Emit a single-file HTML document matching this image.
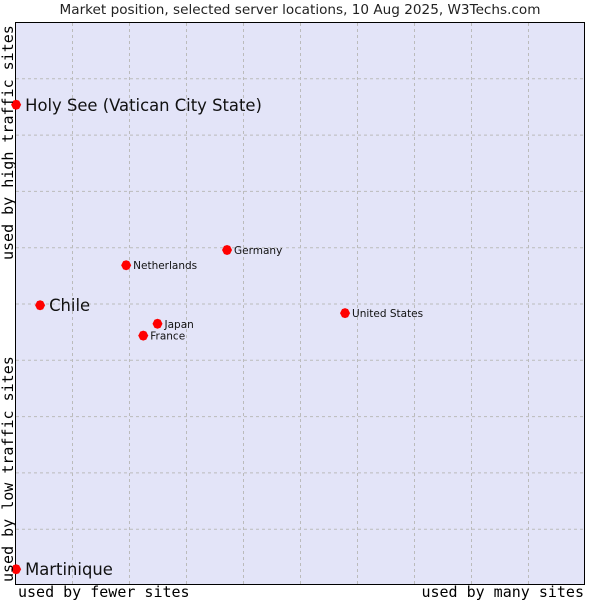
<!DOCTYPE html>
<html><head><meta charset="utf-8"><style>
html,body{margin:0;padding:0;background:#fff;width:600px;height:600px;overflow:hidden}
svg{display:block}
</style></head><body>
<svg id="chart" width="600" height="600" xmlns="http://www.w3.org/2000/svg">
<text x="300" y="14" text-anchor="middle" font-family="DejaVu Sans, sans-serif" font-size="13.6" fill="#222">Market position, selected server locations, 10 Aug 2025, W3Techs.com</text>
<rect x="15.5" y="22.5" width="569" height="562" fill="#e3e4f8" stroke="#000" stroke-width="1"/>
<g id="grid"></g>
<g id="marks"></g>
<text x="18" y="597" font-family="DejaVu Sans Mono, Liberation Mono, monospace" font-size="15" fill="#000">used by fewer sites</text>
<text x="584" y="597" text-anchor="end" font-family="DejaVu Sans Mono, Liberation Mono, monospace" font-size="15" fill="#000">used by many sites</text>
<text transform="translate(13,582) rotate(-90)" font-family="DejaVu Sans Mono, Liberation Mono, monospace" font-size="15" fill="#000">used by low traffic sites</text>
<text transform="translate(13,260) rotate(-90)" font-family="DejaVu Sans Mono, Liberation Mono, monospace" font-size="15" fill="#000">used by high traffic sites</text>
</svg>
<script>
const names = ["Holy See (Vatican City State)","Chile","Netherlands","Germany","Japan","France","United States","Martinique"];
const xValues = [0.2,4.4,19.5,37.2,25.0,22.5,57.9,0.2];
const yValues = [85.3,49.7,56.8,59.5,46.4,44.3,48.3,2.8];
const bigLabel = [true,true,false,false,false,false,false,true];
const NS="http://www.w3.org/2000/svg";
const X0=15,X1=585,Y0=585,Y1=22;
function sx(v){return X0+(X1-X0)*v/100;}
function sy(v){return Y0-(Y0-Y1)*v/100;}
const grid=document.getElementById('grid');
for(let i=1;i<10;i++){
  const lv=document.createElementNS(NS,'line');
  lv.setAttribute('x1',sx(i*10)+0.5);lv.setAttribute('x2',sx(i*10)+0.5);
  lv.setAttribute('y1',Y1+1);lv.setAttribute('y2',Y0);
  lv.setAttribute('stroke','#bbb');lv.setAttribute('stroke-dasharray','3,3');
  
  
  grid.appendChild(lv);
  const lh=document.createElementNS(NS,'line');
  lh.setAttribute('y1',sy(i*10)+0.5);lh.setAttribute('y2',sy(i*10)+0.5);
  lh.setAttribute('x1',X0+1);lh.setAttribute('x2',X1);
  lh.setAttribute('stroke','#bbb');lh.setAttribute('stroke-dasharray','3,3');
  
  
  grid.appendChild(lh);
}
const marks=document.getElementById('marks');
names.forEach((n,i)=>{
  const x=sx(xValues[i]),y=sy(yValues[i]);
  const p=document.createElementNS(NS,'path');
  p.setAttribute('d',`M${x-5},${y} L${x-3},${y-4} L${x},${y-5} L${x+3},${y-4} L${x+5},${y} L${x+3},${y+4} L${x},${y+5} L${x-3},${y+4}Z`);
  p.setAttribute('fill','#f00');
  
  
  marks.appendChild(p);
  const t=document.createElementNS(NS,'text');
  t.setAttribute('x',x+(bigLabel[i]?9:7));
  t.setAttribute('y',y+(bigLabel[i]?6:4));
  t.setAttribute('font-family','DejaVu Sans, sans-serif');
  t.setAttribute('font-size',bigLabel[i]?'16.4':'10.5');
  t.setAttribute('fill','#111');
  t.textContent=n;
  
  
  marks.appendChild(t);
});
</script>
</body></html>
